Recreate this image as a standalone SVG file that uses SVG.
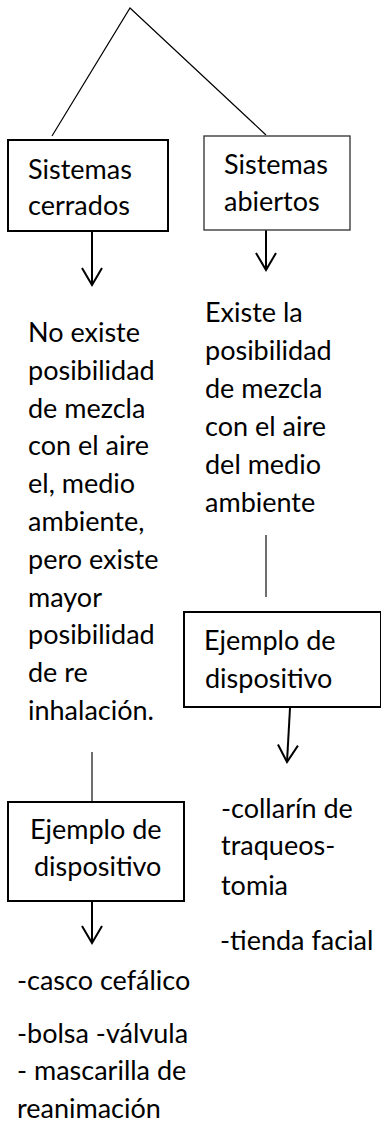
<svg xmlns="http://www.w3.org/2000/svg" width="381" height="1131" viewBox="0 0 381 1131">
<style>
text{font-family:Lato,"Open Sans","Liberation Sans",sans-serif;font-size:27px;fill:#000}
.box{fill:#fff;stroke:#000;stroke-width:2}
.box2{fill:#fff;stroke:#3c3c3c;stroke-width:1.4}
.ln{stroke:#000;stroke-width:1.2;fill:none}
.vl{stroke:#4a4a4a;stroke-width:1.6;fill:none}
.ar{stroke:#000;stroke-width:2;fill:none;marker-end:url(#v)}
</style>
<defs>
<marker id="v" markerUnits="userSpaceOnUse" markerWidth="24" markerHeight="24" refX="17" refY="10" orient="auto" overflow="visible">
<path d="M0,0 L17,10 L0,20" fill="none" stroke="#000" stroke-width="2"/>
</marker>
</defs>
<g id="connectors">
<path class="ln" d="M52,136 L130,8 L266,135"/>
<path class="ar" d="M92,232 L92,285"/>
<path class="ar" d="M266,230 L266,270"/>
<path class="vl" d="M266,535 L266,597"/>
<path class="ar" d="M290,708 L287,762"/>
<path class="vl" d="M92,752 L92,802"/>
<path class="ar" d="M92,902 L92,943"/>
</g>
<g id="closed">
<rect class="box" x="8" y="140" width="160" height="91"/>
<text x="28" y="179">Sistemas</text>
<text x="28" y="215">cerrados</text>
</g>
<g id="open">
<rect class="box2" x="204" y="136" width="146" height="94"/>
<text x="224" y="174">Sistemas</text>
<text x="224" y="211">abiertos</text>
</g>
<g id="closed-desc">
<text x="28" y="342">No existe</text>
<text x="28" y="380">posibilidad</text>
<text x="28" y="418">de mezcla</text>
<text x="28" y="455">con el aire</text>
<text x="28" y="493">el, medio</text>
<text x="28" y="531">ambiente,</text>
<text x="28" y="569">pero existe</text>
<text x="28" y="607">mayor</text>
<text x="28" y="644">posibilidad</text>
<text x="28" y="682">de re</text>
<text x="28" y="720">inhalación.</text>
</g>
<g id="open-desc">
<text x="205" y="322">Existe la</text>
<text x="205" y="360">posibilidad</text>
<text x="205" y="398">de mezcla</text>
<text x="205" y="436">con el aire</text>
<text x="205" y="474">del medio</text>
<text x="205" y="512">ambiente</text>
</g>
<g id="open-example">
<rect class="box" x="184" y="612" width="197" height="95"/>
<text x="204" y="650">Ejemplo de</text>
<text x="205" y="688">dispositivo</text>
</g>
<g id="closed-example">
<rect class="box" x="8" y="802" width="176" height="99"/>
<text x="30" y="839">Ejemplo de</text>
<text x="34" y="876">dispositivo</text>
</g>
<g id="open-devices">
<text x="221" y="818">-collarín de</text>
<text x="221" y="855">traqueos-</text>
<text x="221" y="895">tomia</text>
<text x="220" y="950">-tienda facial</text>
</g>
<g id="closed-devices">
<text x="17" y="990">-casco cefálico</text>
<text x="17" y="1043">-bolsa -válvula</text>
<text x="17" y="1080">- mascarilla de</text>
<text x="17" y="1118">reanimación</text>
</g>
</svg>
